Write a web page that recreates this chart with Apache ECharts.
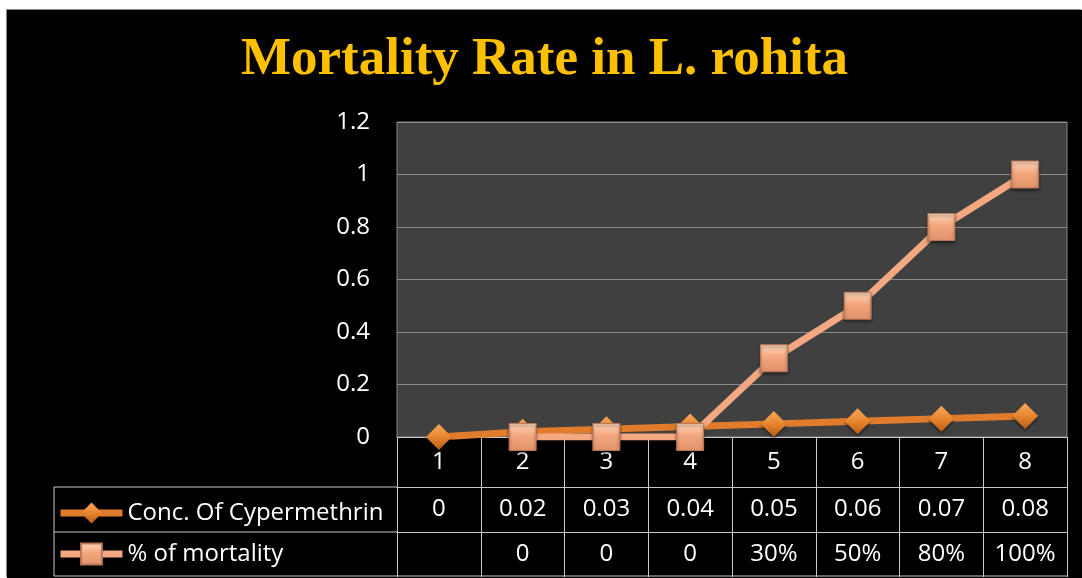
<!DOCTYPE html>
<html>
<head>
<meta charset="utf-8">
<script src="https://cdn.jsdelivr.net/npm/echarts@6/dist/echarts.min.js"></script>
<style>
  html, body { margin: 0; padding: 0; background: #fff; }
  #main {
    position: absolute; left: 7px; top: 10px;
    width: 1075px; height: 568px;
    background: #000;
    box-shadow: -1px -1px 0 #8a8a8a;
  }
</style>
</head>
<body>
<div id="main"></div>
<script>
  // data
  var categories = ['1', '2', '3', '4', '5', '6', '7', '8']
  var concValues = [0, 0.02, 0.03, 0.04, 0.05, 0.06, 0.07, 0.08]
  var mortalityValues = [null, 0, 0, 0, 0.3, 0.5, 0.8, 1]
  var yTicks = { min: 0, max: 1.2, interval: 0.2 }

  var tableFont = 'Open Sans'
  var lineGray = '#c8c8c8'

  function mortalityLabel(v) {
    if (v === null) return ''
    if (v === 0) return '0'
    return Math.round(v * 100) + '%'
  }

  var chart = echarts.init(document.getElementById('main'))

  chart.setOption({
    backgroundColor: '#000',
    animation: false,
    title: {
      text: 'Mortality Rate in L. rohita',
      left: 'center',
      top: 19,
      textStyle: {
        color: '#ffc000',
        fontFamily: 'Liberation Serif',
        fontWeight: 'bold',
        fontSize: 53
      }
    },
    legend: {
      orient: 'vertical',
      left: 45,
      top: 486,
      itemWidth: 62,
      itemHeight: 26,
      itemGap: 17,
      itemTextGap: 3,
      lineStyle: { width: 7 },
      textStyle: { color: '#fff', fontSize: 24, fontFamily: tableFont },
      data: ['Conc. Of Cypermethrin', '% of mortality']
    },
    grid: {
      left: 390,
      top: 112,
      right: 15,
      bottom: 141,
      show: true,
      backgroundColor: '#404040',
      borderColor: '#8a8a8a',
      borderWidth: 1
    },
    xAxis: [
      {
        type: 'category',
        data: categories,
        axisLine: { lineStyle: { color: lineGray, width: 1 } },
        axisTick: { show: true, length: 50, lineStyle: { color: lineGray } },
        axisLabel: { color: '#fff', fontSize: 24, fontFamily: tableFont, margin: 13 }
      },
      {
        type: 'category',
        data: categories,
        position: 'bottom',
        offset: 50,
        axisLine: { lineStyle: { color: lineGray, width: 1 } },
        axisTick: { show: true, length: 45, lineStyle: { color: lineGray } },
        axisLabel: {
          color: '#fff', fontSize: 24, fontFamily: tableFont, margin: 10,
          formatter: function (v, i) { return String(concValues[i]) }
        }
      },
      {
        type: 'category',
        data: categories,
        position: 'bottom',
        offset: 95,
        axisLine: { lineStyle: { color: lineGray, width: 1 } },
        axisTick: { show: true, length: 45, lineStyle: { color: lineGray } },
        axisLabel: {
          color: '#fff', fontSize: 24, fontFamily: tableFont, margin: 10,
          formatter: function (v, i) { return mortalityLabel(mortalityValues[i]) }
        }
      }
    ],
    yAxis: {
      type: 'value',
      min: yTicks.min,
      max: yTicks.max,
      interval: yTicks.interval,
      axisLine: { show: false },
      axisTick: { show: false },
      axisLabel: { color: '#fff', fontSize: 24, fontFamily: tableFont, margin: 27 },
      splitLine: { lineStyle: { color: '#8c8c8c', width: 1 } }
    },
    graphic: [
      { type: 'line', shape: { x1: 47, y1: 477, x2: 390, y2: 477 }, style: { stroke: lineGray, lineWidth: 1 } },
      { type: 'line', shape: { x1: 47, y1: 522, x2: 390, y2: 522 }, style: { stroke: lineGray, lineWidth: 1 } },
      { type: 'line', shape: { x1: 47, y1: 566, x2: 1060, y2: 566 }, style: { stroke: lineGray, lineWidth: 1 } },
      { type: 'line', shape: { x1: 47, y1: 477, x2: 47, y2: 566 }, style: { stroke: lineGray, lineWidth: 1 } }
    ],
    series: [
      {
        name: 'Conc. Of Cypermethrin',
        type: 'line',
        data: concValues,
        symbol: 'diamond',
        symbolSize: 26,
        lineStyle: { color: '#e07c2c', width: 7 },
        itemStyle: {
          color: new echarts.graphic.LinearGradient(0, 0, 0, 1, [
            { offset: 0, color: '#f8a65a' },
            { offset: 0.5, color: '#e8862f' },
            { offset: 1, color: '#b85c16' }
          ]),
          shadowBlur: 3,
          shadowColor: 'rgba(0,0,0,0.5)',
          shadowOffsetY: 2
        },
        z: 2
      },
      {
        name: '% of mortality',
        type: 'line',
        data: mortalityValues,
        symbol: 'rect',
        symbolSize: 27,
        lineStyle: { color: '#f4a882', width: 7 },
        itemStyle: {
          color: new echarts.graphic.LinearGradient(0, 0, 0, 1, [
            { offset: 0, color: '#ffd9bd' },
            { offset: 0.45, color: '#f3a77d' },
            { offset: 1, color: '#e0926a' }
          ]),
          borderColor: '#b9765a',
          borderWidth: 1,
          shadowBlur: 3,
          shadowColor: 'rgba(0,0,0,0.5)',
          shadowOffsetY: 2
        },
        z: 3
      }
    ]
  })
</script>
</body>
</html>
